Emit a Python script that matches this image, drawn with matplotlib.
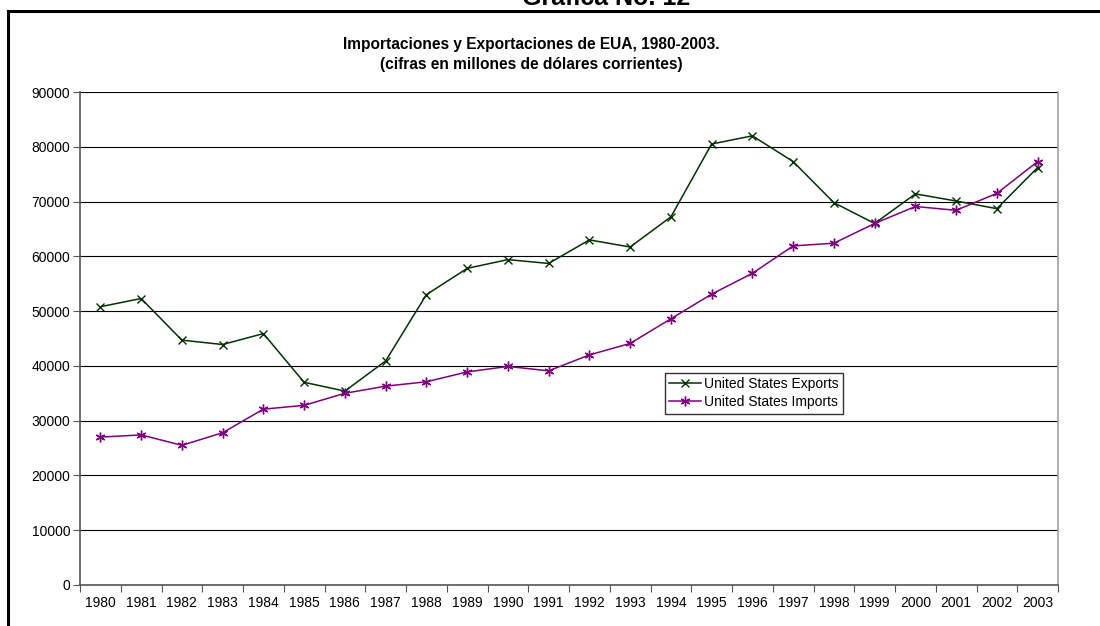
import numpy as np
import matplotlib.pyplot as plt
from matplotlib.lines import Line2D

plt.rcParams['font.family'] = ['Liberation Sans', 'DejaVu Sans']

years = [str(y) for y in range(1980, 2004)]
exports = [50800, 52300, 44700, 43900, 45900, 37000, 35400, 40900, 53000, 57800,
           59400, 58700, 63000, 61700, 67200, 80500, 82000, 77300, 69800, 66000,
           71400, 70100, 68700, 76200]
imports = [27000, 27400, 25500, 27800, 32100, 32800, 35000, 36300, 37100, 38900,
           39900, 39100, 42000, 44100, 48600, 53100, 56900, 61900, 62400, 66000,
           69100, 68400, 71500, 77300]

W, H = 1100, 626
fig = plt.figure(figsize=(W / 100, H / 100), dpi=100)
ax = fig.add_axes([80 / W, (H - 585) / H, (1058 - 80) / W, (585 - 92) / H])

x = np.arange(len(years))
ax.plot(x, exports, color='#003300', lw=1.1, marker='x', ms=6, mew=1.0,
        label='United States Exports')
ax.plot(x, imports, color='#800080', lw=1.1, marker=(6, 2, 0), ms=7, mew=1.0,
        label='United States Imports')

ax.set_xlim(-0.5, len(years) - 0.5)
ax.set_ylim(0, 90000)
ax.set_yticks(np.arange(0, 90001, 10000))
ax.yaxis.grid(True, color='black', lw=0.8)
ax.set_axisbelow(True)

# category axis: ticks between categories, labels at centres
ax.set_xticks(np.arange(-0.5, len(years), 1.0))
ax.set_xticklabels([])
ax.set_xticks(x, minor=True)
ax.set_xticklabels(years, minor=True)
ax.tick_params(axis='x', which='major', direction='out', length=5, color='#555555')
ax.tick_params(axis='x', which='minor', length=0, labelsize=10, pad=8)
ax.tick_params(axis='y', direction='out', length=5, color='#555555', labelsize=10, pad=2)

ax.spines['top'].set_visible(False)
ax.spines['left'].set_color('#555555')
ax.spines['bottom'].set_color('#555555')
ax.spines['right'].set_color('#a0a0a0')
for s in ['left', 'bottom', 'right']:
    ax.spines[s].set_linewidth(1.2)

leg = ax.legend(loc='upper left', bbox_to_anchor=(0.598, 0.430), fontsize=10,
                frameon=True, fancybox=False, edgecolor='black', borderpad=0.3,
                handlelength=2.3, handletextpad=0.2, labelspacing=0.3,
                borderaxespad=0)
leg.get_frame().set_linewidth(1.0)

fig.text(531 / W, 1 - 45 / H, 'Importaciones y Exportaciones de EUA, 1980-2003.',
         ha='center', va='center', fontsize=11.2, fontweight='bold')
fig.text(531 / W, 1 - 64 / H, '(cifras en millones de dólares corrientes)',
         ha='center', va='center', fontsize=11.2, fontweight='bold')
fig.text(606 / W, 1 - 5 / H, 'Grafica No. 12', ha='center', va='baseline',
         fontsize=18, fontweight='bold')

# outer chart frame
fig.add_artist(Line2D([8 / W, 1.0], [1 - 11 / H, 1 - 11 / H], color='black', lw=2.2,
                      transform=fig.transFigure))
fig.add_artist(Line2D([8 / W, 8 / W], [0, 1 - 11 / H], color='black', lw=2.2,
                      transform=fig.transFigure))

fig.savefig('out.png', dpi=100)
